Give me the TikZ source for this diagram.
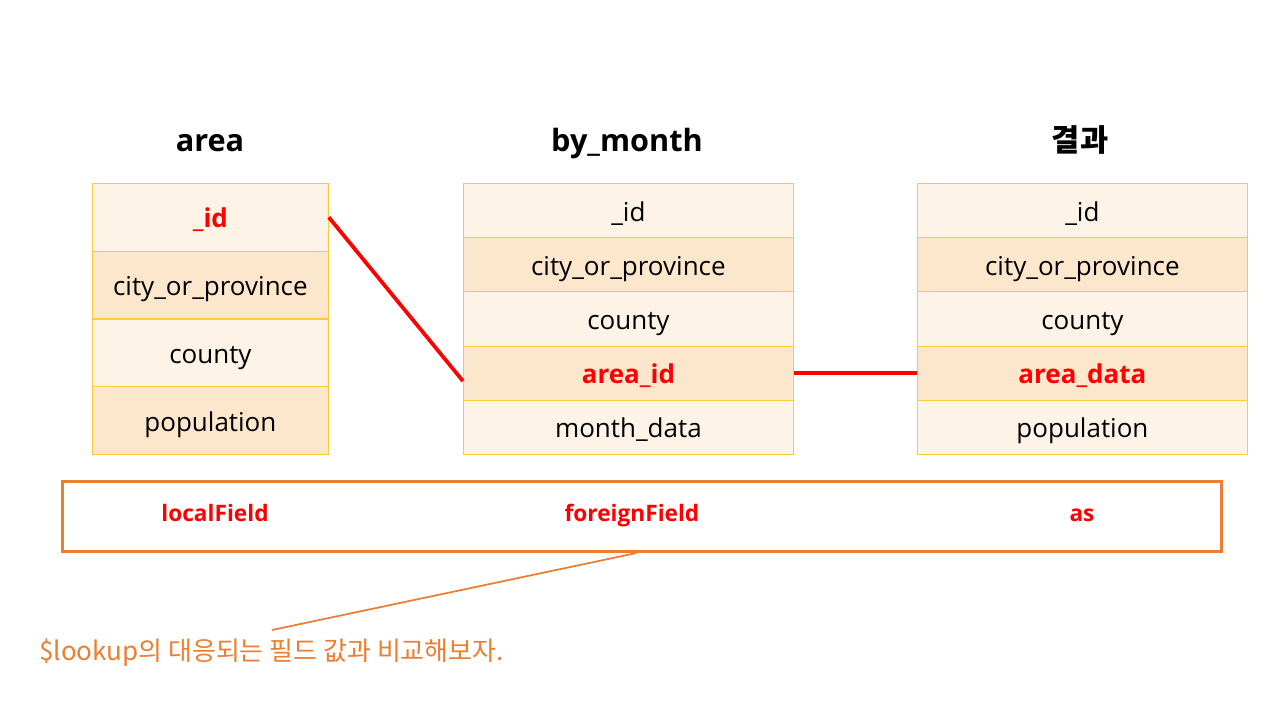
\documentclass[tikz,border=0pt]{standalone}
\usepackage{fontspec}
\setmainfont{Open Sans}
\newfontfamily\kr{Noto Sans CJK KR}
\definecolor{gold}{HTML}{FFC937}
\definecolor{lightrow}{HTML}{FEF3E7}
\definecolor{darkrow}{HTML}{FDE7CC}
\definecolor{accent}{HTML}{ED7D31}
\definecolor{hot}{HTML}{FF0000}
\tikzset{
  x=0.75pt, y=-0.75pt,
  cellA/.style={draw=gold, line width=0.6pt, anchor=north west, inner sep=0pt,
    minimum width=177pt, minimum height=50.8pt, text height=19pt, text depth=3.2pt,
    font=\fontsize{19.5}{23}\selectfont},
  cellB/.style={draw=gold, line width=0.6pt, anchor=north west, inner sep=0pt,
    minimum width=247.5pt, minimum height=40.65pt, text height=19pt, text depth=3.2pt,
    font=\fontsize{19.5}{23}\selectfont},
  lt/.style={fill=lightrow},
  dk/.style={fill=darkrow},
  key/.style={text=hot, font=\fontsize{19.5}{23}\selectfont\bfseries},
  title/.style={font=\fontsize{23}{27}\selectfont\bfseries, text height=20pt, text depth=3.5pt},
  tag/.style={text=hot, font=\fontsize{17}{20}\selectfont\bfseries, text height=15pt, text depth=3.4pt},
  link/.style={draw=hot, line width=2.8pt},
}
\begin{document}
\begin{tikzpicture}
\useasboundingbox (0,0) rectangle (1280,720);
% titles
\node[title] (t1) at (210,141) {area};
\node[title] (t2) at (627,141) {by\_month};
\node[title, font=\fontsize{23}{27}\selectfont\kr\bfseries] (t3) at (1080,141) {결과};
% area table
\node[cellA, lt, key] (a1) at (92,183) {\_id};
\node[cellA, dk] (a2) at (92,250.75) {city\_or\_province};
\node[cellA, lt] (a3) at (92,318.5) {county};
\node[cellA, dk] (a4) at (92,386.25) {population};
% by_month table
\node[cellB, lt] (b1) at (463,183) {\_id};
\node[cellB, dk] (b2) at (463,237.2) {city\_or\_province};
\node[cellB, lt] (b3) at (463,291.4) {county};
\node[cellB, dk, key] (b4) at (463,345.6) {area\_id};
\node[cellB, lt] (b5) at (463,399.8) {month\_data};
% result table
\node[cellB, lt] (c1) at (917,183) {\_id};
\node[cellB, dk] (c2) at (917,237.2) {city\_or\_province};
\node[cellB, lt] (c3) at (917,291.4) {county};
\node[cellB, dk, key] (c4) at (917,345.6) {area\_data};
\node[cellB, lt] (c5) at (917,399.8) {population};
% links
\draw[link] (a1.east) -- ([yshift=-6pt]b4.west);
\draw[link] (b4.east) -- (c4.west);
% lookup box
\node[draw=accent, line width=2.25pt, anchor=north west, minimum width=869pt, minimum height=52.5pt, inner sep=0pt] (box) at (61,480) {};
\node[tag] (l1) at (215,514) {localField};
\node[tag] (l2) at (632,514) {foreignField};
\node[tag] (l3) at (1082,514) {as};
% note
\node[anchor=west, text=accent, inner sep=0pt, text height=18pt, text depth=4pt, font=\fontsize{19.5}{23}\selectfont\kr] (note) at (39,651) {\$lookup의 대응되는 필드 값과 비교해보자.};
\coordinate (tip) at (272,630);
\draw[accent, line width=1.3pt] ([xshift=-4pt]box.south) -- (tip);
\end{tikzpicture}
\end{document}
